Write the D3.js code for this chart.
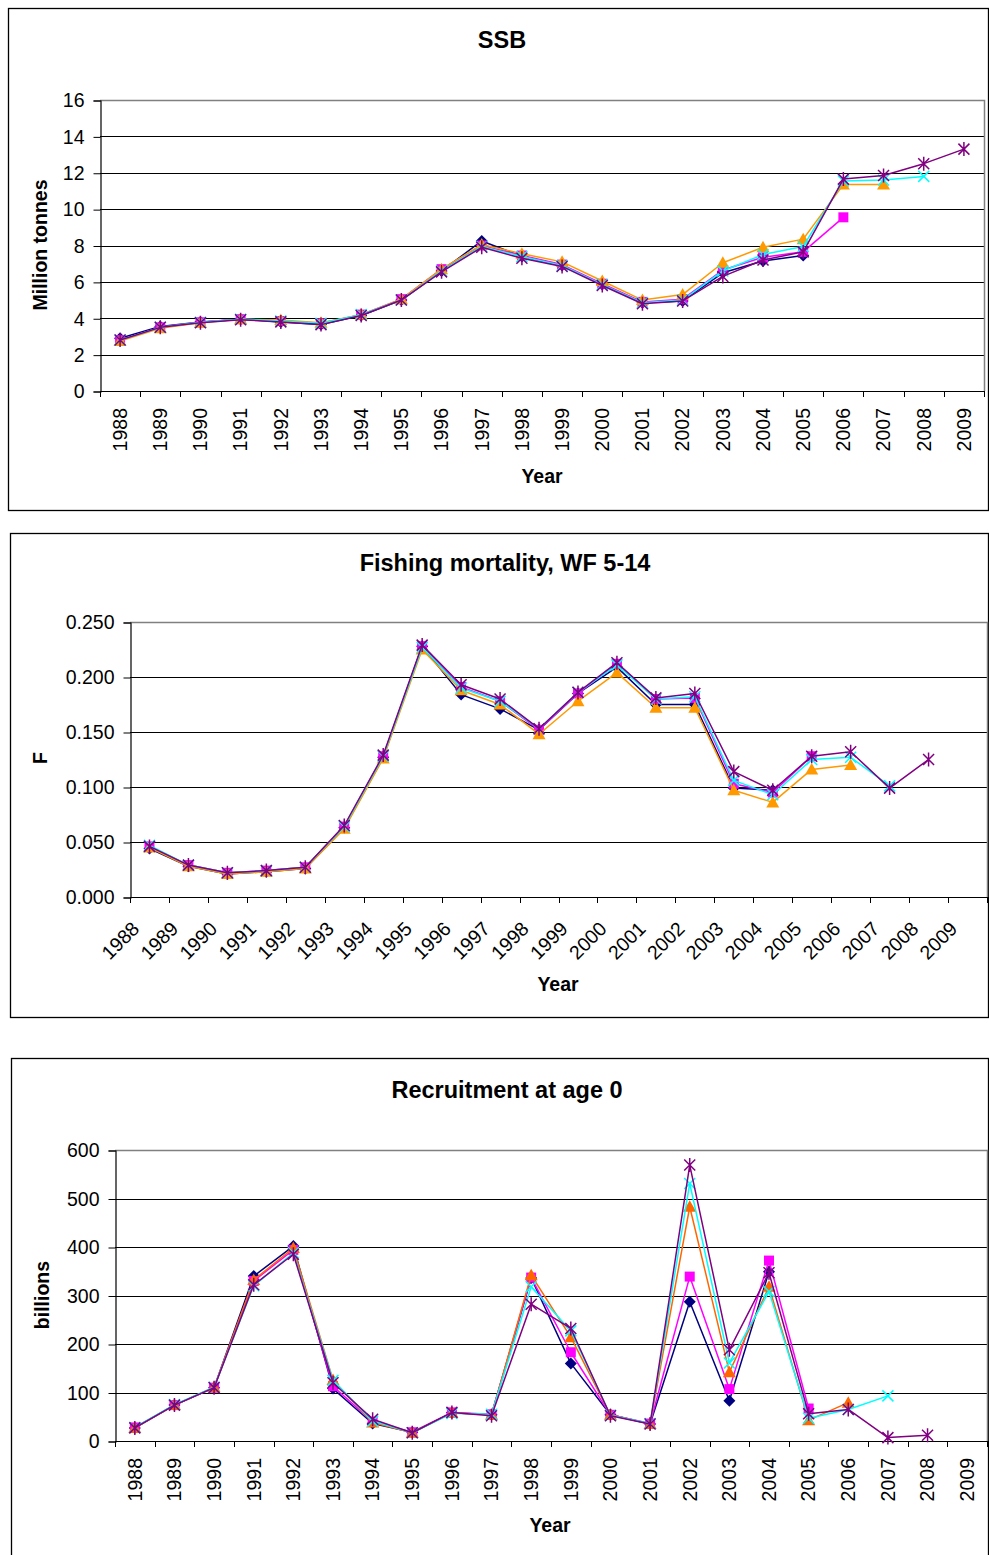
<!DOCTYPE html>
<html><head><meta charset="utf-8">
<script src="https://cdn.jsdelivr.net/npm/d3@7/dist/d3.min.js"></script>
<style>
body{margin:0;background:#fff}
svg{display:block}
text{font-family:"Liberation Sans",Arial,Helvetica,sans-serif;fill:#000}
</style>
</head><body>
<svg id="chart" width="989" height="1555"></svg>
<script>
// ---------- DATA ----------
const years = ["1988","1989","1990","1991","1992","1993","1994","1995","1996","1997","1998",
               "1999","2000","2001","2002","2003","2004","2005","2006","2007","2008","2009"];

const ssbTicks = [0,2,4,6,8,10,12,14,16];
const ssbNavy    = [2.9,3.55,3.8,3.95,3.8,3.65,4.15,5.0,6.6,8.25,7.4,6.9,5.85,4.85,4.95,6.5,7.15,7.45,null,null,null,null];
const ssbMagenta = [2.8,3.5,3.78,3.95,3.85,3.72,4.2,5.05,6.7,8.0,7.45,6.95,5.9,4.9,5.05,6.65,7.35,7.65,9.55,null,null,null];
const ssbOrange  = [2.75,3.45,3.75,3.95,3.9,3.75,4.2,5.05,6.7,8.05,7.55,7.1,6.05,5.0,5.3,7.05,7.9,8.35,11.35,11.35,null,null];
const ssbCyan    = [2.8,3.5,3.78,3.95,3.85,3.72,4.2,5.0,6.6,7.95,7.4,6.9,5.85,4.85,5.0,6.6,7.5,7.95,11.55,11.6,11.8,null];
const ssbPurple  = [2.8,3.5,3.75,3.92,3.8,3.65,4.15,5.0,6.55,7.9,7.3,6.85,5.8,4.8,4.95,6.3,7.2,7.65,11.65,11.85,12.5,13.3];

const fTicks = [0,0.05,0.10,0.15,0.20,0.25];
const fNavy    = [0.044,0.028,0.021,0.023,0.026,0.063,0.127,0.228,0.184,0.171,0.152,0.185,0.209,0.175,0.175,0.099,0.097,null,null,null,null,null];
const fMagenta = [0.046,0.029,0.022,0.024,0.027,0.064,0.128,0.228,0.191,0.178,0.152,0.185,0.212,0.180,0.181,0.103,0.095,0.128,null,null,null,null];
const fOrange  = [0.045,0.028,0.021,0.023,0.026,0.062,0.126,0.225,0.188,0.175,0.148,0.178,0.204,0.172,0.172,0.097,0.086,0.116,0.120,null,null,null];
const fCyan    = [0.047,0.029,0.022,0.024,0.027,0.064,0.128,0.227,0.190,0.178,0.153,0.186,0.211,0.180,0.182,0.106,0.093,0.125,0.127,0.101,null,null];
const fPurple  = [0.046,0.029,0.022,0.024,0.027,0.065,0.129,0.229,0.193,0.180,0.153,0.186,0.213,0.181,0.185,0.114,0.097,0.128,0.132,0.099,0.125,null];

const recTicks = [0,100,200,300,400,500,600];
const recNavy    = [27,74,110,340,402,108,36,18,58,54,336,160,54,35,287,83,349,null,null,null,null,null];
const recMagenta = [28,74,110,330,394,113,40,18,59,55,337,183,54,36,339,107,372,67,null,null,null,null];
const recOrange  = [27,74,111,332,398,126,38,17,58,54,342,214,54,35,483,142,318,43,79,null,null,null];
const recCyan    = [28,75,111,320,388,125,41,17,57,55,318,227,53,36,531,161,308,47,65,93,null,null];
const recPurple  = [27,74,110,322,385,120,45,17,59,52,282,232,52,35,569,188,347,56,65,7,12,null];

// ---------- DRAWING ----------
const svg = d3.select("#chart");
const FONT = '"Liberation Sans",Arial,sans-serif';

function markerPath(kind){
  switch(kind){
    case "diamond": return "M0,-6L6,0L0,6L-6,0Z";
    case "square": return "M-5,-5H5V5H-5Z";
    case "triangle": return "M0,-6.5L6.5,5L-6.5,5Z";
    case "x": return "M-5.5,-5.5L5.5,5.5M-5.5,5.5L5.5,-5.5";
    case "star": return "M-5.5,-5.5L5.5,5.5M-5.5,5.5L5.5,-5.5M0,-7L0,7";
  }
}

function panel(cfg){
  const g = svg.append("g");
  // outer frame
  g.append("rect").attr("x",cfg.box[0]+0.5).attr("y",cfg.box[1]+0.5)
    .attr("width",cfg.box[2]).attr("height",cfg.box[3])
    .attr("fill","#fff").attr("stroke","#000").attr("stroke-width",1.3);

  const [l,t,r,b] = cfg.plot;
  const x = d3.scaleBand().domain(years).range([l,r]).paddingInner(0).paddingOuter(0);
  const y = d3.scaleLinear().domain([cfg.ticks[0], cfg.ticks[cfg.ticks.length-1]]).range([b,t]);
  const cx = yr => x(yr) + x.bandwidth()/2;

  // gridlines
  g.append("g").selectAll("line").data(cfg.ticks.slice(1,-1)).join("line")
    .attr("x1",l).attr("x2",r).attr("y1",d=>Math.round(y(d))+0.5).attr("y2",d=>Math.round(y(d))+0.5)
    .attr("stroke","#000").attr("stroke-width",1);
  // plot border top/right (grey)
  g.append("path").attr("d",`M${l},${Math.round(t)+0.5}H${r+0.5}V${b}`)
    .attr("fill","none").attr("stroke","#808080").attr("stroke-width",1.5);

  // y axis
  const ya = d3.axisLeft(y).tickValues(cfg.ticks).tickSize(7).tickPadding(9).tickFormat(cfg.fmt);
  const yg = g.append("g").attr("transform",`translate(${l+0.5},0.5)`).call(ya);
  yg.select(".domain").attr("stroke","#000").attr("stroke-width",1.2);
  yg.selectAll(".tick line").attr("stroke","#000");
  yg.selectAll("text").attr("font-size",19.5).attr("font-family",FONT).attr("fill","#000");

  // x axis line and boundary ticks
  g.append("line").attr("x1",l).attr("x2",r+0.5).attr("y1",b+0.5).attr("y2",b+0.5)
    .attr("stroke","#000").attr("stroke-width",1.2);
  const bounds = years.map(yr=>x(yr)).concat([r]);
  g.append("g").selectAll("line").data(bounds).join("line")
    .attr("x1",d=>Math.round(d)+0.5).attr("x2",d=>Math.round(d)+0.5)
    .attr("y1",b).attr("y2",b+6).attr("stroke","#000");

  // x labels
  const xl = g.append("g").selectAll("text").data(years).join("text")
    .text(d=>d).attr("font-size",19.5).attr("text-anchor","end");
  if(cfg.rot === -90){
    xl.attr("transform",d=>`translate(${cx(d)},${b+17}) rotate(-90)`).attr("dy","0.35em");
  } else {
    xl.attr("transform",d=>`translate(${cx(d)-9},${b+33}) rotate(-45)`);
  }

  // titles
  g.append("text").text(cfg.title).attr("x",cfg.titlePos[0]).attr("y",cfg.titlePos[1])
    .attr("text-anchor","middle").attr("dy","0.35em").attr("font-size",23.5).attr("font-weight","bold");
  g.append("text").text("Year").attr("x",cfg.xtPos[0]).attr("y",cfg.xtPos[1])
    .attr("text-anchor","middle").attr("dy","0.35em").attr("font-size",19.5).attr("font-weight","bold");
  g.append("text").text(cfg.ytitle)
    .attr("transform",`translate(${cfg.ytPos[0]},${cfg.ytPos[1]}) rotate(-90)`)
    .attr("text-anchor","middle").attr("dy","0.35em").attr("font-size",19.5).attr("font-weight","bold");

  // series
  const line = d3.line().defined(d=>d.v!=null).x(d=>cx(d.yr)).y(d=>y(d.v));
  cfg.series.forEach(s=>{
    const pts = s.values.map((v,i)=>({yr:years[i],v}));
    const sg = g.append("g");
    sg.append("path").attr("d",line(pts)).attr("fill","none").attr("stroke",s.color).attr("stroke-width",1.5)
      .attr("stroke-linejoin","round");
    const filled = !(s.marker==="x"||s.marker==="star");
    sg.selectAll("path.m").data(pts.filter(d=>d.v!=null)).join("path").attr("class","m")
      .attr("d",markerPath(s.marker))
      .attr("transform",d=>`translate(${cx(d.yr)},${y(d.v)})`)
      .attr("fill",filled?s.color:"none")
      .attr("stroke",filled?"none":s.color)
      .attr("stroke-width",filled?0:1.5);
  });
}

panel({
  box:[8,8,980,502], plot:[100,100,984,391], ticks:ssbTicks, fmt:d3.format("d"), rot:-90,
  title:"SSB", titlePos:[502,40], ytitle:"Million tonnes", ytPos:[40,245], xtPos:[542,476],
  series:[
    {values:ssbNavy,color:"#000080",marker:"diamond"},
    {values:ssbMagenta,color:"#FF00FF",marker:"square"},
    {values:ssbOrange,color:"#FF9900",marker:"triangle"},
    {values:ssbCyan,color:"#00FFFF",marker:"x"},
    {values:ssbPurple,color:"#800080",marker:"star"}
  ]
});

panel({
  box:[10,533,978,484], plot:[130,622,987,897], ticks:fTicks, fmt:d3.format(".3f"), rot:-45,
  title:"Fishing mortality, WF 5-14", titlePos:[505,563], ytitle:"F", ytPos:[40,758], xtPos:[558,984],
  series:[
    {values:fNavy,color:"#000080",marker:"diamond"},
    {values:fMagenta,color:"#FF00FF",marker:"square"},
    {values:fOrange,color:"#FF9900",marker:"triangle"},
    {values:fCyan,color:"#00FFFF",marker:"x"},
    {values:fPurple,color:"#800080",marker:"star"}
  ]
});

panel({
  box:[11,1058,977,510], plot:[115,1150,987,1441], ticks:recTicks, fmt:d3.format("d"), rot:-90,
  title:"Recruitment at age 0", titlePos:[507,1090], ytitle:"billions", ytPos:[42,1295], xtPos:[550,1525],
  series:[
    {values:recNavy,color:"#000080",marker:"diamond"},
    {values:recMagenta,color:"#FF00FF",marker:"square"},
    {values:recOrange,color:"#FF6600",marker:"triangle"},
    {values:recCyan,color:"#00FFFF",marker:"x"},
    {values:recPurple,color:"#800080",marker:"star"}
  ]
});
</script>
</body></html>
